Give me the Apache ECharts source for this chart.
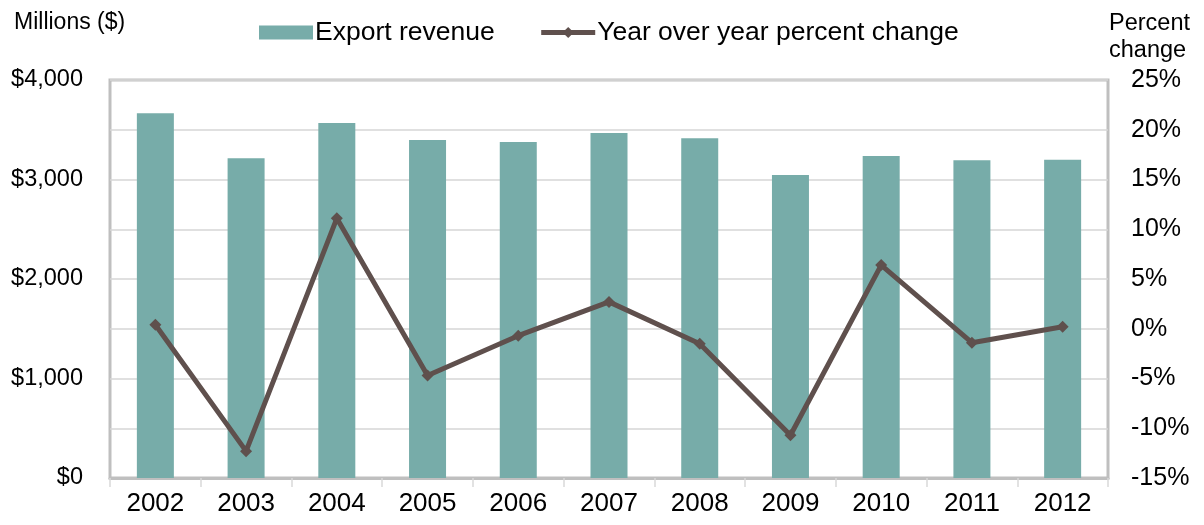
<!DOCTYPE html>
<html>
<head>
<meta charset="utf-8">
<script src="https://cdn.jsdelivr.net/npm/echarts@6/dist/echarts.min.js"></script>
<style>
  html, body { margin: 0; padding: 0; background: #fff; }
  #chart { width: 1204px; height: 525px; }
</style>
</head>
<body>
<div id="chart"></div>
<script>
// Data
const years = ['2002', '2003', '2004', '2005', '2006', '2007', '2008', '2009', '2010', '2011', '2012'];
const exportRevenue = [3665, 3213, 3568, 3397, 3377, 3467, 3414, 3045, 3236, 3193, 3199];
const yoyChange = [0.4, -12.3, 11.1, -4.7, -0.7, 2.7, -1.5, -10.7, 6.4, -1.4, 0.2];

const leftTickLabels = ['$0', '$1,000', '$2,000', '$3,000', '$4,000'];
const rightTickLabels = ['-15%', '-10%', '-5%', '0%', '5%', '10%', '15%', '20%', '25%'];

const FONT = "'Liberation Sans', Arial, sans-serif";
const BAR_COLOR = '#77aca9';
const LINE_COLOR = '#5f504d';

const chart = echarts.init(document.getElementById('chart'));

const option = {
    animation: false,
    textStyle: { fontFamily: FONT, color: '#000' },
    legend: {
        left: 254,
        top: 14,
        itemWidth: 54,
        itemHeight: 14,
        itemGap: 44,
        textStyle: { fontFamily: FONT, fontSize: 26.5, color: '#000', padding: [0, 0, 0, -3] },
        data: [
            { name: 'Export revenue', icon: 'rect' },
            { name: 'Year over year percent change', lineStyle: { width: 5 } }
        ]
    },
    graphic: [
        {
            type: 'text',
            left: 14,
            top: 11,
            style: { text: 'Millions ($)', font: '23px ' + FONT, fill: '#000' }
        },
        {
            type: 'text',
            right: 14,
            top: 10,
            style: { text: 'Percent\nchange', font: '23.5px ' + FONT, fill: '#000', align: 'center', lineHeight: 27 }
        }
    ],
    grid: {
        left: 110,
        right: 96,
        top: 80,
        bottom: 47,
        show: true,
        borderColor: '#bfbfbf',
        borderWidth: 3,
        containLabel: false
    },
    xAxis: {
        type: 'category',
        data: years,
        boundaryGap: true,
        axisLine: { show: true, lineStyle: { color: '#bfbfbf', width: 3 } },
        axisTick: { show: true, length: 9, lineStyle: { color: '#d9d9d9', width: 1.5 } },
        axisLabel: { fontFamily: FONT, fontSize: 26, color: '#000', margin: 13 }
    },
    yAxis: [
        {
            type: 'value',
            min: 0,
            max: 4000,
            interval: 500,
            axisLine: { show: false },
            axisTick: { show: false },
            splitLine: { show: true, lineStyle: { color: '#d6d6d6', width: 1.5 } },
            axisLabel: {
                fontFamily: FONT,
                fontSize: 23.5,
                color: '#000',
                margin: 27,
                formatter: function (v) {
                    return v % 1000 === 0 ? leftTickLabels[v / 1000] : '';
                }
            }
        },
        {
            type: 'value',
            min: -15,
            max: 25,
            interval: 5,
            axisLine: { show: false },
            axisTick: { show: false },
            splitLine: { show: false },
            axisLabel: {
                fontFamily: FONT,
                fontSize: 25,
                color: '#000',
                margin: 23,
                formatter: function (v) {
                    return rightTickLabels[(v + 15) / 5];
                }
            }
        }
    ],
    series: [
        {
            name: 'Export revenue',
            type: 'bar',
            data: exportRevenue,
            barWidth: 37,
            itemStyle: { color: BAR_COLOR }
        },
        {
            name: 'Year over year percent change',
            type: 'line',
            yAxisIndex: 1,
            data: yoyChange,
            symbol: 'diamond',
            symbolSize: 12,
            itemStyle: { color: LINE_COLOR },
            lineStyle: { color: LINE_COLOR, width: 5 }
        }
    ]
};

chart.setOption(option);
</script>
</body>
</html>
